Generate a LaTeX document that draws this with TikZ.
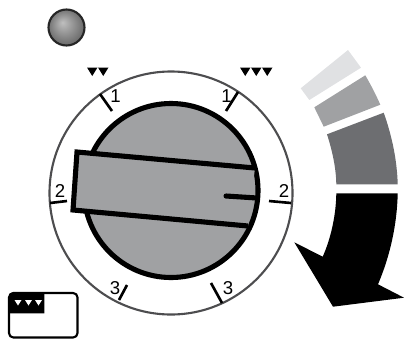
\documentclass[tikz,border=0pt]{standalone}
\usepackage{fontspec}
\setmainfont{Liberation Sans}
\usepackage{xcolor}
\definecolor{dialgray}{HTML}{A0A1A3}
\definecolor{ringgray}{HTML}{4D4D4F}
\definecolor{barlight}{HTML}{E0E1E3}
\definecolor{bardark}{HTML}{6D6E71}
\pgfdeclareradialshading{ballshade}{\pgfpoint{-0.2cm}{0.25cm}}{
  color(0cm)=(black!25); color(0.4cm)=(black!40); color(0.9cm)=(black!58); color(1.2cm)=(black!68)}
\tikzset{
  tick/.style={black, line width=1.5pt},
  ticklbl/.style={font=\fontsize{10.6}{11}\selectfont, inner sep=0pt},
  dialline/.style={black, line width=2.9pt, miter limit=10}
}
\begin{document}
\begin{tikzpicture}[x=0.02cm, y=-0.02cm]
\useasboundingbox (0,0) rectangle (404,338);

% Indicator ball
\shade[shading=ballshade] (66.5,27.5) circle (18);
\draw[black!85, line width=1.2pt] (66.5,27.5) circle (18);

% Outer ring
\draw[ringgray, line width=1.2pt] (171,193) circle (121.5);

% Ticks and labels
\foreach \xa/\ya/\xb/\yb/\lx/\ly/\v/\nm in {100/94/112/111/115.5/96.5/1/lblA, 238/92/226/111/226.5/96/1/lblB, 50/203/67/201/60/190.5/2/lblC, 269/201/291/203/284/190.5/2/lblD, 127/285/119/300/115/288/3/lblE, 211/283/222/303/228/288/3/lblF} {
    \draw[tick] (\xa,\ya) -- (\xb,\yb);
    \node[ticklbl] (\nm) at (\lx,\ly) {\v};
}

% Speed marks
\foreach \x in {87,98,240,251,262} {
    \fill[black] (\x,67.5) -- (\x+10.5,67.5) -- (\x+5.25,76) -- cycle;
}

% Dial
\draw[dialline, fill=dialgray] (171,190.5) circle (87);

% Pointer
\fill[dialgray] (77,152) -- (255,168) -- (248,226) -- (73,210) -- cycle;
\draw[dialline] (255,168) -- (77,152) -- (73,210) -- (248,226);
\draw[dialline, line cap=round] (226,196) -- (257,198);

% Curved bars
\fill[barlight] (300.7,88.3) -- (348,50) -- (361,67.7) -- (309.3,100) -- cycle;
\fill[dialgray] (314.3,107.3) -- (365.3,75.3) .. controls (372,87) and (376,95) .. (380.3,104.7) -- (323.7,126.7) -- cycle;
\fill[bardark] (327,134.3) -- (383.7,112.7) .. controls (392,136) and (397,160) .. (397.7,184.3) -- (336.3,184.3) .. controls (336,167) and (332,150) .. (327,134.3) -- cycle;

% Big arrow
\fill[black] (336.3,193.3) -- (397.7,193.3) .. controls (397,225) and (390,256) .. (378,284.3) -- (404,297.7) -- (333,306.7) -- (294.3,242.3) -- (322.7,256.7) .. controls (331,238) and (336,215) .. (336.3,193.3) -- cycle;

% Tank symbol
\draw[black, line width=1.2pt, rounded corners=2.5pt] (9,293) rectangle (77.5,337.5);
\fill[black] (9,295) -- (9,313.3) -- (44.3,313.3) -- (44.3,292.5) -- (11.5,292.5) -- cycle;
\foreach \x in {14.5,25,35} {
    \fill[white] (\x,300) -- (\x+7,300) -- (\x+3.5,305.5) -- cycle;
}
\end{tikzpicture}
\end{document}
